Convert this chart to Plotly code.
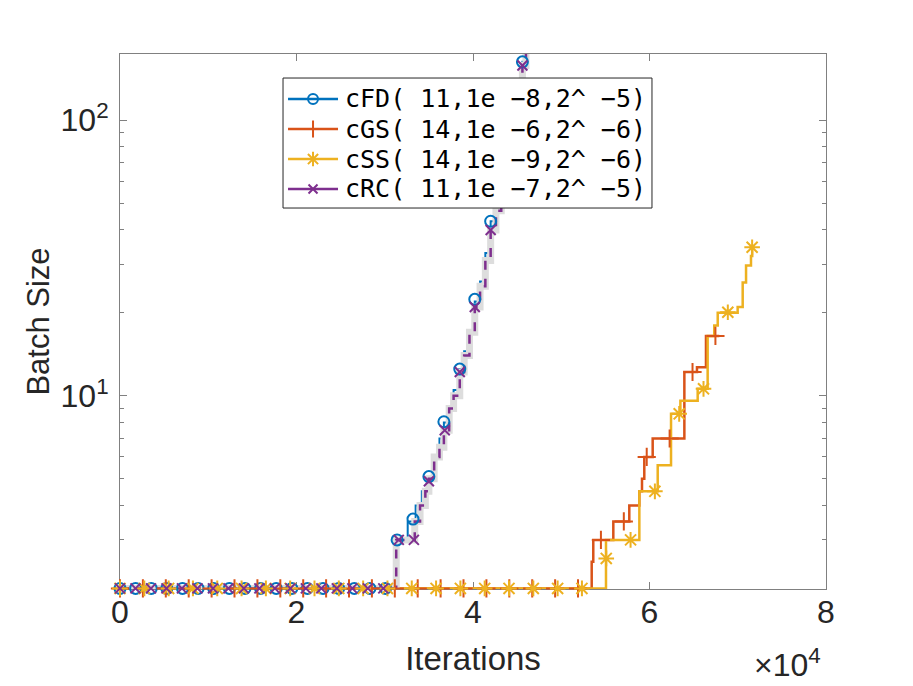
import numpy as np
import plotly.graph_objects as go

# ---- data (iterations, batch size) ----
# step lines
cfd_x = [0, 31200, 32600, 33500, 34200, 34900, 35600, 36200, 36700, 37300, 37800,
         38400, 39000, 39600, 40200, 40800, 41400, 42000, 42600, 43200, 43800,
         44400, 45000, 45600, 46000]
cfd_y = [2, 3, 3.5, 4, 4.5, 5, 6, 7, 8, 9, 10.5,
         12.5, 14.5, 17, 22, 26, 33, 43, 50, 62, 80,
         100, 125, 163, 185]

rc_x = [0, 31300, 33400, 34000, 34600, 35000, 35600, 36200, 36700, 37300, 37800,
        38500, 39000, 39600, 40200, 40800, 41400, 42000, 42600, 43200, 43800,
        44400, 45000, 45600, 46000]
rc_y = [2, 3, 3.5, 4, 4.5, 5, 6, 6.5, 7.5, 9, 10,
        12.2, 14, 17, 21, 25, 31, 40, 47, 58, 78,
        95, 120, 158, 180]

gs_x = [0, 53450, 53630, 55900, 57710, 58850, 59150, 59410, 60360, 63950, 65380, 66400, 67910]
gs_y = [2, 2.5, 3, 3.5, 4, 4.5, 5, 6, 7, 12.2, 12.7, 16.5, 16.5]

ss_x = [0, 55070, 58850, 60930, 62440, 63500, 65460, 66590, 67340, 67730, 69990,
        70560, 70940, 71500, 71640]
ss_y = [2, 3, 4.5, 5.6, 8.6, 9.6, 10.6, 16.5, 18, 20, 21,
        25.8, 29.7, 32.2, 34.6]

# marker positions
cfd_mx = [0, 1770, 3540, 5310, 7080, 8850, 10620, 12390, 14160, 15930, 17700,
          19470, 21240, 23010, 24780, 26550, 28320, 30090,
          31400, 33200, 35000, 36700, 38500, 40200, 42000, 43800, 45600]
cfd_my = [2] * 18 + [3, 3.57, 5.09, 8.05, 12.5, 22.4, 43, 82, 163]

rc_mx = [0, 1755, 3510, 5265, 7020, 8775, 10530, 12285, 14040, 15795, 17550,
         19305, 21060, 22815, 24570, 26325, 28080, 29835,
         31590, 33300, 35000, 36800, 38500, 40200, 42000, 43800, 45600]
rc_my = [2] * 18 + [3, 3, 4.9, 7.5, 12.2, 21, 40, 78, 158]

gs_mx = [k * 2595 for k in range(27)]
gs_my = [2] * 21 + [3, 3.5, 6, 7, 12.2, 16.5]

ss_mx = [k * 2755 for k in range(27)]
ss_my = [2] * 20 + [2.57, 3, 4.5, 8.6, 10.6, 20.1, 34.6]

names = ['cFD( 11,1e \u22128,2^ \u22125)', 'cGS( 14,1e \u22126,2^ \u22126)',
         'cSS( 14,1e \u22129,2^ \u22126)', 'cRC( 11,1e \u22127,2^ \u22125)']
colors = ['#0072BD', '#D95319', '#EDB120', '#7E2F8E']
symbols = ['circle-open', 'cross-thin-open', 'asterisk-open', 'x-thin-open']
msizes = [11, 13, 13, 10]

fig = go.Figure()

# lines (drawn first so markers sit on top)
fig.add_trace(go.Scatter(x=cfd_x, y=cfd_y, mode='lines', line_shape='hv',
                         line=dict(color=colors[0], width=2), showlegend=False))
fig.add_trace(go.Scatter(x=gs_x, y=gs_y, mode='lines', line_shape='hv',
                         line=dict(color=colors[1], width=2.5), showlegend=False))
fig.add_trace(go.Scatter(x=ss_x, y=ss_y, mode='lines', line_shape='hv',
                         line=dict(color=colors[2], width=2.5), showlegend=False))
# light grey band behind the cRC curve
fig.add_trace(go.Scatter(x=rc_x, y=rc_y, mode='lines', line_shape='hv',
                         line=dict(color='#DDDDDD', width=7), showlegend=False))
fig.add_trace(go.Scatter(x=rc_x, y=rc_y, mode='lines', line_shape='hv',
                         line=dict(color=colors[3], width=2.5, dash='dash'),
                         showlegend=False))

# markers
for mx, my, c, s, ms in [(cfd_mx, cfd_my, colors[0], symbols[0], msizes[0]),
                         (gs_mx, gs_my, colors[1], symbols[1], msizes[1]),
                         (ss_mx, ss_my, colors[2], symbols[2], msizes[2]),
                         (rc_mx, rc_my, colors[3], symbols[3], msizes[3])]:
    fig.add_trace(go.Scatter(x=mx, y=my, mode='markers', cliponaxis=False,
                             marker=dict(symbol=s, size=ms, color=c,
                                         line=dict(color=c, width=2)),
                             showlegend=False))

# ---- hand-drawn legend on an overlay axis (0..1 covers the plot area) ----
L_X0, L_X1, L_Y0, L_Y1 = 0.2309, 0.7535, 0.7121, 0.9551
SAMPLE_X0, SAMPLE_X1, SAMPLE_XM = 0.238, 0.3088, 0.2734
TEXT_X = 0.3159
ROW_Y = [0.9159, 0.8598, 0.8037, 0.7477]

fig.add_trace(go.Scatter(x=[L_X0, L_X1, L_X1, L_X0, L_X0], y=[L_Y0, L_Y0, L_Y1, L_Y1, L_Y0],
                         mode='lines', fill='toself', fillcolor='white',
                         line=dict(color='#262626', width=1), xaxis='x2', yaxis='y2',
                         showlegend=False, hoverinfo='skip'))
for c, s, ms, ry in zip(colors, symbols, msizes, ROW_Y):
    fig.add_trace(go.Scatter(x=[SAMPLE_X0, SAMPLE_X1], y=[ry, ry], mode='lines',
                             line=dict(color=c, width=2.5), xaxis='x2', yaxis='y2',
                             showlegend=False, hoverinfo='skip'))
    fig.add_trace(go.Scatter(x=[SAMPLE_XM], y=[ry], mode='markers',
                             marker=dict(symbol=s, size=ms - 1, color=c,
                                         line=dict(color=c, width=2)),
                             xaxis='x2', yaxis='y2', showlegend=False, hoverinfo='skip'))

annotations = []
for n, ry in zip(names, ROW_Y):
    annotations.append(dict(text=n, x=TEXT_X, y=ry, xref='x2', yref='y2',
                            xanchor='left', yanchor='middle', showarrow=False,
                            font=dict(family='DejaVu Sans Mono, monospace', size=25, color='black')))

axis_col = '#808080'
txt_col = '#262626'
font_main = 'Liberation Sans, Arial, sans-serif'

annotations.append(dict(text='\u00d710<sup>4</sup>', x=0.996, y=-0.097, xref='paper', yref='paper',
                        xanchor='right', yanchor='top', showarrow=False,
                        font=dict(size=32, color=txt_col, family=font_main)))

fig.update_layout(
    xaxis=dict(range=[0, 80000], tickvals=[0, 20000, 40000, 60000, 80000],
               ticktext=['0', '2', '4', '6', '8'],
               ticks='inside', ticklen=7, tickcolor=axis_col, tickwidth=1,
               showline=True, linecolor=axis_col, linewidth=1, mirror='ticks',
               showgrid=False, zeroline=False, layer='below traces', automargin=False,
               ticklabelstandoff=-5,
               tickfont=dict(size=32, color=txt_col, family=font_main),
               title=dict(text='Iterations', font=dict(size=33, color=txt_col, family=font_main),
                          standoff=17)),
    yaxis=dict(type='log', range=[np.log10(1.99), np.log10(174)],
               tickvals=[10, 100], ticktext=['10<sup>1</sup>', '10<sup>2</sup>'],
               ticks='inside', ticklen=7, tickcolor=axis_col, tickwidth=1,
               minor=dict(ticks='inside', ticklen=4, tickcolor=axis_col,
                          tickvals=[3, 4, 5, 6, 7, 8, 9, 20, 30, 40, 50, 60, 70, 80, 90]),
               showline=True, linecolor=axis_col, linewidth=1, mirror='ticks',
               showgrid=False, zeroline=False, layer='below traces', automargin=False,
               ticklabelstandoff=4,
               tickfont=dict(size=32, color=txt_col, family=font_main),
               title=dict(text='Batch Size', font=dict(size=31, color=txt_col, family=font_main),
                          standoff=1)),
    xaxis2=dict(overlaying='x', anchor='y2', range=[0, 1], visible=False, fixedrange=True),
    yaxis2=dict(overlaying='y', anchor='x2', range=[0, 1], visible=False, fixedrange=True),
    width=913, height=686,
    # the page adds a small offset, so margins are shifted to keep the plot area in place
    margin=dict(l=112, r=95, t=46, b=105, autoexpand=False),
    paper_bgcolor='white', plot_bgcolor='white',
    showlegend=False,
    annotations=annotations,
)

fig.write_html("out.html")
